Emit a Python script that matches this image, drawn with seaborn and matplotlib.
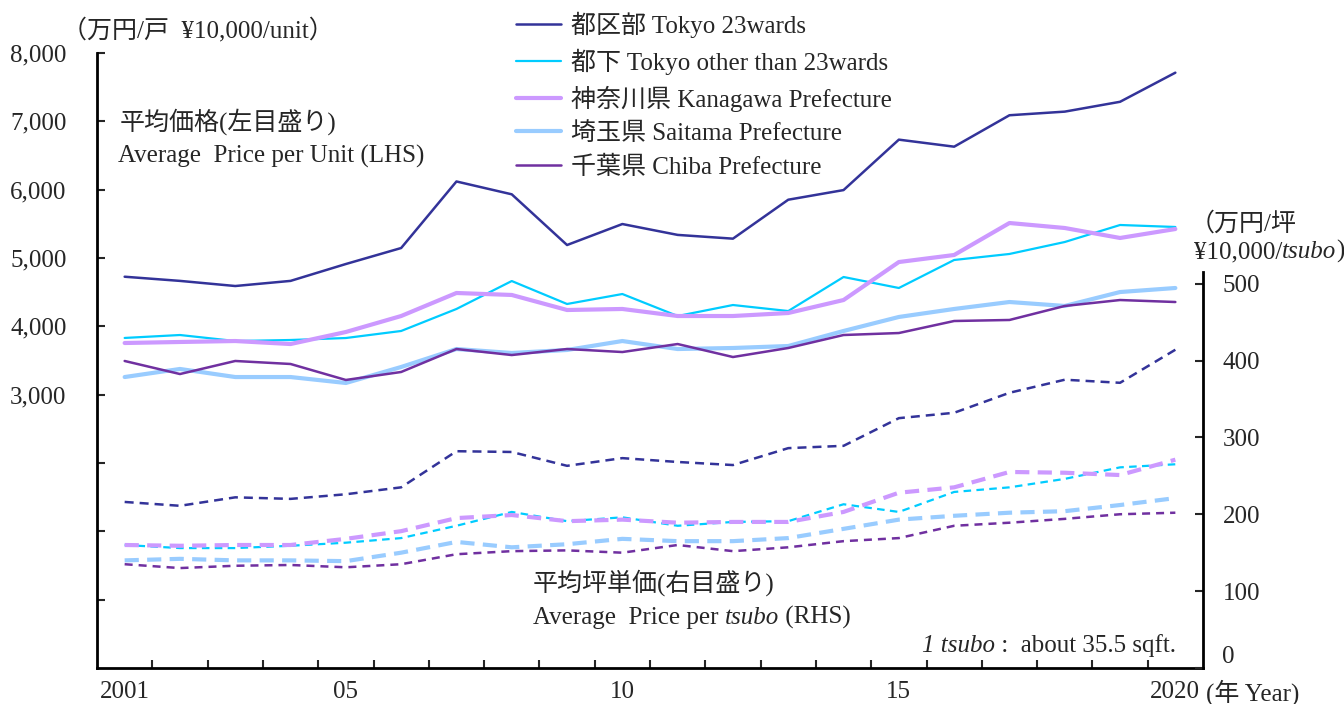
import matplotlib
matplotlib.use("Agg")
import matplotlib.pyplot as plt
import seaborn as sns

sns.set_style("white")
plt.rcParams["font.family"] = ["Liberation Serif", "Noto Sans CJK JP"]

years = list(range(2001, 2021))
year_labels = {2001: "2001", 2005: "05", 2010: "10", 2015: "15", 2020: "2020"}

series_names = [
    "都区部 Tokyo 23wards",
    "都下 Tokyo other than 23wards",
    "神奈川県 Kanagawa Prefecture",
    "埼玉県 Saitama Prefecture",
    "千葉県 Chiba Prefecture",
]

# average price per unit (10,000 yen), left axis
price_tokyo23 = [4726, 4665, 4590, 4665, 4912, 5146, 6120, 5932, 5190, 5497,
                 5338, 5283, 5853, 5994, 6732, 6629, 7089, 7142, 7286, 7712]
price_tokyo_other = [3830, 3873, 3785, 3800, 3829, 3932, 4254, 4663, 4327, 4473,
                     4151, 4312, 4224, 4722, 4561, 4971, 5059, 5234, 5483, 5454]
price_kanagawa = [3756, 3771, 3785, 3741, 3917, 4151, 4488, 4459, 4239, 4254,
                  4151, 4151, 4195, 4385, 4941, 5044, 5512, 5439, 5293, 5424]
price_saitama = [3258, 3376, 3258, 3258, 3171, 3405, 3668, 3610, 3654, 3785,
                 3668, 3683, 3712, 3932, 4137, 4254, 4356, 4298, 4502, 4561]
price_chiba = [3493, 3302, 3493, 3449, 3215, 3332, 3668, 3580, 3668, 3624,
               3741, 3551, 3683, 3873, 3902, 4078, 4093, 4298, 4385, 4356]

# average price per tsubo (10,000 yen), right axis
tsubo_tokyo23 = [216, 211, 222, 220, 226, 235, 282, 281, 263, 273,
                 268, 264, 286, 289, 325, 332, 358, 375, 371, 414]
tsubo_tokyo_other = [160, 156, 156, 159, 163, 169, 185, 203, 191, 196,
                     185, 190, 191, 213, 203, 229, 235, 246, 261, 265]
tsubo_kanagawa = [160, 159, 160, 160, 168, 178, 195, 199, 191, 193,
                  189, 190, 190, 203, 228, 235, 255, 254, 251, 271]
tsubo_saitama = [140, 142, 140, 140, 139, 150, 164, 157, 161, 168,
                 165, 165, 169, 181, 193, 198, 202, 204, 212, 221]
tsubo_chiba = [135, 130, 133, 134, 131, 135, 148, 152, 153, 150,
               160, 152, 157, 165, 169, 185, 189, 194, 200, 202]

colors = ["#333399", "#00CCFF", "#CC99FF", "#99CCFF", "#7030A0"]
widths = [1.8, 1.6, 3.0, 3.0, 1.8]
dash_styles = [(0, (3.6, 2.4)), (0, (3.4, 2.4)), (0, (3.4, 2.0)), (0, (3.4, 2.0)), (0, (3.2, 2.4))]

price_series = [price_tokyo23, price_tokyo_other, price_kanagawa, price_saitama, price_chiba]
tsubo_series = [tsubo_tokyo23, tsubo_tokyo_other, tsubo_kanagawa, tsubo_saitama, tsubo_chiba]

fig = plt.figure(figsize=(13.44, 7.04), dpi=100)
ax = fig.add_axes([97 / 1344, 36 / 704, 1106 / 1344, 615 / 704])
ax2 = ax.twinx()

handles = []
for name, vals, c, lw in zip(series_names, price_series, colors, widths):
    sns.lineplot(x=years, y=vals, ax=ax, color=c, linewidth=lw, label=name, legend=False)
    handles.append(ax.get_lines()[-1])

for vals, c, lw, ds in zip(tsubo_series, colors, widths, dash_styles):
    sns.lineplot(x=years, y=vals, ax=ax2, color=c, linewidth=lw, linestyle=ds, legend=False)

# axes and spines
ax.set_xlim(2000.5, 2020.5)
ax.set_ylim(-1000, 8000)
ax2.set_ylim(0, 800)
for a in (ax, ax2):
    a.spines["top"].set_visible(False)
ax.spines["right"].set_visible(False)
ax2.spines["left"].set_visible(False)
ax2.spines["bottom"].set_visible(False)
ax2.spines["right"].set_bounds(0, 515)
for s in ("left", "bottom"):
    ax.spines[s].set_linewidth(2)
    ax.spines[s].set_color("black")
ax2.spines["right"].set_linewidth(2)
ax2.spines["right"].set_color("black")

fs = 18

ax.set_xticks([y + 0.5 for y in years[:-1]])
ax.set_xticklabels([])
ax.set_xticks(list(year_labels.keys()), minor=True)
ax.set_xticklabels(list(year_labels.values()), minor=True)
ax.tick_params(axis="x", which="major", direction="in", length=6, width=1.5, bottom=True)
ax.tick_params(axis="x", which="minor", length=0, labelsize=fs, pad=9)

ax.set_yticks(list(range(0, 8001, 1000)))
ax.set_yticklabels(["" if v < 3000 else f"{v:,}" for v in range(0, 8001, 1000)])
ax.tick_params(axis="y", direction="in", length=6, width=1.5, left=True, labelsize=fs, pad=22)

ax2.set_yticks(list(range(0, 501, 100)))
ax2.set_yticklabels([str(v) for v in range(0, 501, 100)])
ax2.tick_params(axis="y", direction="in", length=6, width=1.5, right=True, labelsize=fs, pad=14)
# the "0" on the right sits a little above the axis line, as in the original
ax2.get_yticklabels()[0].set_va("bottom")
ax.set_xlabel("")
ax.set_ylabel("")
ax2.set_ylabel("")
ax.grid(False)
ax2.grid(False)

fig.text(62 / 1344, 1 - 30 / 704, "（万円/戸  ¥10,000/unit）", fontsize=fs, va="center", ha="left")
fig.text(1206 / 1344, 1 - 693 / 704, "(年 Year)", fontsize=fs, va="center", ha="left")

fig.text(120 / 1344, 1 - 122 / 704, "平均価格(左目盛り)", fontsize=fs, va="center", ha="left")
fig.text(118 / 1344, 1 - 156 / 704, "Average  Price per Unit (LHS)", fontsize=fs, va="center", ha="left")

fig.text(1190 / 1344, 1 - 224 / 704, "（万円/坪", fontsize=fs, va="center", ha="left")
t = fig.text(1194 / 1344, 1 - 258 / 704, "¥10,000/", fontsize=fs, va="baseline", ha="left")
t = ax.annotate("tsubo", xy=(1, 0), xycoords=t, va="bottom", ha="left", fontsize=fs, style="italic")
ax.annotate(")", xy=(1, 0), xycoords=t, va="bottom", ha="left", fontsize=fs)

fig.text(533 / 1344, 1 - 583 / 704, "平均坪単価(右目盛り)", fontsize=fs, va="center", ha="left")
t = fig.text(533 / 1344, 1 - 624 / 704, "Average  Price per ", fontsize=fs, va="baseline", ha="left")
t = ax.annotate("tsubo", xy=(1, 0), xycoords=t, va="bottom", ha="left", fontsize=fs, style="italic")
ax.annotate(" (RHS)", xy=(1, 0), xycoords=t, va="bottom", ha="left", fontsize=fs)

t = fig.text(922 / 1344, 1 - 652 / 704, "1 tsubo", fontsize=fs, va="baseline", ha="left", style="italic")
ax.annotate(" :  about 35.5 sqft.", xy=(1, 0), xycoords=t, va="bottom", ha="left", fontsize=fs)

fig.legend(handles, series_names, loc="upper left", bbox_to_anchor=(506 / 1344, 1 - 2 / 704),
           frameon=False, fontsize=fs, handlelength=1.8, handletextpad=0.4, labelspacing=0.42,
           borderaxespad=0)

fig.savefig("out.png", dpi=100)
